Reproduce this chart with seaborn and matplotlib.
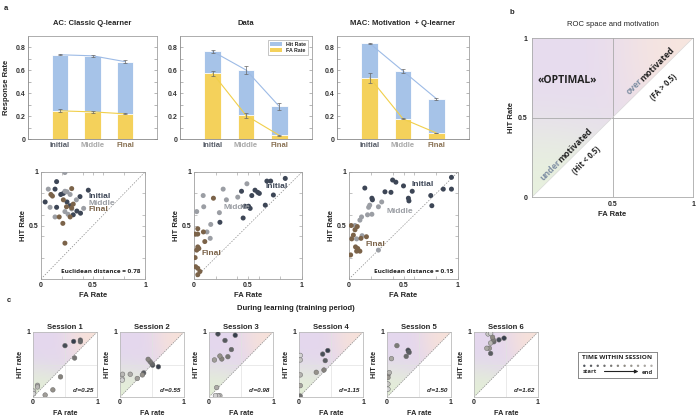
import numpy as np
import pandas as pd
import matplotlib
matplotlib.use("Agg")
import matplotlib.pyplot as plt
import seaborn as sns
from matplotlib.colors import to_rgb, LinearSegmentedColormap
from matplotlib.patches import Patch

# ---------------- data ----------------
phases = ["Initial", "Middle", "Final"]

ac_hit = [0.736, 0.727, 0.676]
ac_hit_err = [0.003, 0.010, 0.012]
ac_fa = [0.246, 0.237, 0.220]
ac_fa_err = [0.013, 0.007, 0.004]

data_hit = [0.765, 0.603, 0.285]
data_hit_err = [0.016, 0.036, 0.033]
data_fa = [0.573, 0.206, 0.032]
data_fa_err = [0.024, 0.025, 0.004]

mac_hit = [0.835, 0.594, 0.353]
mac_hit_err = [0.003, 0.018, 0.008]
mac_fa = [0.535, 0.176, 0.053]
mac_fa_err = [0.044, 0.005, 0.003]

s1_init_fa = [0.15, 0.135, 0.04, 0.15, 0.19, 0.375, 0.455, 0.25, 0.28, 0.31, 0.38, 0.345, 0.215]
s1_init_hit = [0.91, 0.84, 0.72, 0.67, 0.79, 0.77, 0.83, 0.72, 0.685, 0.60, 0.615, 0.635, 0.80]
s1_mid_fa = [0.07, 0.23, 0.23, 0.25, 0.28, 0.34, 0.41, 0.135, 0.23, 0.295, 0.26, 0.087]
s1_mid_hit = [0.84, 0.995, 0.82, 0.815, 0.79, 0.74, 0.66, 0.58, 0.63, 0.655, 0.605, 0.67]
s1_fin_fa = [0.095, 0.11, 0.295, 0.215, 0.31, 0.295, 0.175, 0.28, 0.21, 0.23, 0.245]
s1_fin_hit = [0.79, 0.775, 0.845, 0.74, 0.70, 0.665, 0.58, 0.58, 0.52, 0.335, 0.675]

s2_init_fa = [0.845, 0.675, 0.71, 0.44, 0.565, 0.59, 0.605, 0.535, 0.735, 0.47, 0.505, 0.52, 0.66, 0.455, 0.24]
s2_init_hit = [0.94, 0.915, 0.915, 0.82, 0.83, 0.81, 0.80, 0.78, 0.785, 0.68, 0.68, 0.66, 0.69, 0.57, 0.53]
s2_mid_fa = [0.49, 0.27, 0.085, 0.30, 0.405, 0.09, 0.025, 0.235, 0.155, 0.15, 0.12]
s2_mid_hit = [0.89, 0.84, 0.78, 0.74, 0.765, 0.675, 0.63, 0.62, 0.51, 0.38, 0.44]
s2_fin_fa = [0.18, 0.035, 0.01, 0.035, 0.087, 0.10, 0.035, 0.045, 0.025, 0.01, 0.015, 0.035, 0.055, 0.035]
s2_fin_hit = [0.755, 0.47, 0.42, 0.42, 0.44, 0.35, 0.30, 0.285, 0.27, 0.20, 0.115, 0.10, 0.07, 0.04]

s3_init_fa = [0.94, 0.865, 0.94, 0.75, 0.76, 0.545, 0.55, 0.58, 0.50, 0.40, 0.43, 0.385, 0.33, 0.145, 0.21, 0.215]
s3_init_hit = [0.95, 0.84, 0.84, 0.78, 0.685, 0.755, 0.73, 0.82, 0.87, 0.925, 0.905, 0.81, 0.815, 0.85, 0.755, 0.74]
s3_mid_fa = [0.19, 0.18, 0.30, 0.27, 0.17, 0.115, 0.10, 0.055, 0.12, 0.07, 0.27, 0.21]
s3_mid_hit = [0.69, 0.67, 0.72, 0.675, 0.60, 0.58, 0.55, 0.50, 0.405, 0.375, 0.27, 0.605]
s3_fin_fa = [0.076, 0.055, 0.02, 0.04, 0.11, 0.16, 0.06, 0.08, 0.07, 0.10, 0.015, 0.025]
s3_fin_hit = [0.49, 0.46, 0.50, 0.41, 0.38, 0.395, 0.30, 0.285, 0.26, 0.26, 0.225, 0.375]

# sessions, points listed in time order (start -> end)
sess_fa = [
    [0.635, 0.50, 0.74, 0.74, 0.65, 0.43, 0.31, 0.19, 0.07, 0.07, 0.01, 0.01],
    [0.60, 0.51, 0.37, 0.50, 0.47, 0.44, 0.35, 0.27, 0.16, 0.04, 0.03, 0.035],
    [0.41, 0.14, 0.25, 0.35, 0.295, 0.20, 0.17, 0.085, 0.12, 0.17, 0.14, 0.10],
    [0.45, 0.37, 0.41, 0.02, 0.39, 0.27, 0.02, 0.02, 0.02, 0.02],
    [0.34, 0.33, 0.345, 0.30, 0.155, 0.015, 0.015, 0.07, 0.035, 0.015, 0.015],
    [0.47, 0.39, 0.26, 0.31, 0.30, 0.29, 0.24, 0.20, 0.26, 0.22, 0.26],
]
sess_hit = [
    [0.855, 0.79, 0.875, 0.85, 0.60, 0.31, 0.11, 0.03, 0.18, 0.155, 0.09, 0.05],
    [0.465, 0.49, 0.37, 0.51, 0.545, 0.58, 0.34, 0.285, 0.35, 0.35, 0.285, 0.26],
    [0.95, 0.97, 0.87, 0.73, 0.62, 0.585, 0.63, 0.57, 0.145, 0.02, 0.02, 0.02],
    [0.715, 0.66, 0.56, 0.015, 0.415, 0.38, 0.175, 0.34, 0.57, 0.64],
    [0.70, 0.72, 0.685, 0.625, 0.79, 0.34, 0.30, 0.59, 0.375, 0.20, 0.12],
    [0.905, 0.88, 0.67, 0.85, 0.88, 0.92, 0.75, 0.75, 0.83, 0.97, 0.98],
]
sess_titles = ["Session 1", "Session 2", "Session 3", "Session 4", "Session 5", "Session 6"]
sess_dprime = ["d'=0.25", "d'=0.55", "d'=0.98", "d'=1.15", "d'=1.50", "d'=1.62"]
euclid = ["Euclidean distance = 0.78", None, "Euclidean distance = 0.15"]

# ---------------- style ----------------
sns.set_theme(style="white")
plt.rcParams["font.family"] = ["Liberation Sans", "DejaVu Sans"]
plt.rcParams["font.weight"] = "bold"
plt.rcParams["axes.labelweight"] = "bold"
plt.rcParams["axes.titleweight"] = "bold"

BLUE = "#a6c3e8"
YELLOW = "#f4d15b"
BLUE_LINE = "#9dbbe6"
YELLOW_LINE = "#f1cf4a"
C_INIT = "#3d4656"
C_MID = "#9b9ea4"
C_FIN = "#7b6349"
TICKC = ["#555b66", "#a8a8a8", "#8a7254"]
SPINE = "#a0a0a0"
time_cmap = LinearSegmentedColormap.from_list("t", ["#363e4c", "#8e8a82", "#d2d2d2"])

W, H = 700, 418
fig = plt.figure(figsize=(7, 4.18), dpi=100)


def add_ax(l, t, r, b):
    return fig.add_axes([l / W, 1 - b / H, (r - l) / W, (b - t) / H])


def style_spines(ax, c=SPINE, lw=0.6):
    for s in ax.spines.values():
        s.set_color(c)
        s.set_linewidth(lw)


def grad_img(cg, cp, co, n=400):
    g = np.linspace(0, 1, n)
    X, Y = np.meshgrid(g, g)
    cg = np.array(to_rgb(cg))
    cp = np.array(to_rgb(cp))
    co = np.array(to_rgb(co))
    wg = np.exp(-(X ** 2 + Y ** 2) / 0.16)
    wp = np.exp(-(X ** 2 + (1 - Y) ** 2) / 0.35)
    wo = np.exp(-((1 - X) ** 2 + (1 - Y) ** 2) / 0.14)
    s = wg + wp + wo
    rgb = (wg[..., None] * cg + wp[..., None] * cp + wo[..., None] * co) / s[..., None]
    alpha = (Y >= X).astype(float)
    return np.dstack([rgb, alpha])


GRAD_B = grad_img("#e8f2dd", "#e7dcef", "#f8e6de")
GRAD_C = grad_img("#e3f0d6", "#e4d7ee", "#f8e2d8")


# ---------------- panel a: bars ----------------
def bar_panel(ax, hit, hit_err, fa, fa_err, title, ylabel=None, legend=False):
    df = pd.DataFrame({"phase": phases, "hit": hit, "fa": fa})
    sns.barplot(data=df, x="phase", y="hit", color=BLUE, width=0.5, errorbar=None,
                ax=ax, edgecolor="white", linewidth=0.6, saturation=1)
    sns.barplot(data=df, x="phase", y="fa", color=YELLOW, width=0.5, errorbar=None,
                ax=ax, edgecolor="white", linewidth=0.6, saturation=1)
    xs = np.arange(len(phases))
    ax.plot(xs, hit, color=BLUE_LINE, lw=0.8, zorder=3)
    ax.plot(xs, fa, color=YELLOW_LINE, lw=0.8, zorder=3)
    ax.errorbar(xs, hit, yerr=hit_err, fmt="none", ecolor="#666666", elinewidth=0.5,
                capsize=1.6, capthick=0.5, zorder=4)
    ax.errorbar(xs, fa, yerr=fa_err, fmt="none", ecolor="#666666", elinewidth=0.5,
                capsize=1.6, capthick=0.5, zorder=4)
    ax.set_xlim(-0.985, 2.985)
    ax.set_ylim(0, 0.9)
    ax.set_yticks([0, 0.2, 0.4, 0.6, 0.8])
    ax.set_yticklabels(["0", "0.2", "0.4", "0.6", "0.8"])
    ax.set_yticks(np.arange(0.1, 0.9, 0.1), minor=True)
    ax.tick_params(axis="y", which="both", direction="in", left=True, right=True,
                   length=2, width=0.5, color="#999999", labelsize=5, pad=2)
    ax.tick_params(axis="x", length=0, labelsize=5.5, pad=2)
    for lab, c in zip(ax.get_xticklabels(), TICKC):
        lab.set_color(c)
    for lab in ax.get_yticklabels():
        lab.set_color("#333333")
    ax.set_xlabel("")
    ax.set_ylabel(ylabel if ylabel else "", fontsize=5.5, labelpad=4)
    ax.set_title(title, fontsize=5.5, pad=8)
    style_spines(ax)
    ax.spines["left"].set_color("#888888")
    ax.spines["bottom"].set_color("#888888")
    if legend:
        h = [Patch(facecolor=BLUE, edgecolor="none", label="Hit Rate"),
             Patch(facecolor=YELLOW, edgecolor="none", label="FA Rate")]
        lg = ax.legend(handles=h, loc="upper right", fontsize=3.8, frameon=True,
                       fancybox=False, edgecolor="#999999", handlelength=2.4,
                       handleheight=0.7, borderpad=0.3, labelspacing=0.25,
                       bbox_to_anchor=(0.99, 0.985))
        lg.get_frame().set_linewidth(0.5)


ax1 = add_ax(28, 36, 157, 139)
bar_panel(ax1, ac_hit, ac_hit_err, ac_fa, ac_fa_err, "AC: Classic Q-learner", ylabel="Response Rate")
ax2 = add_ax(180, 36, 312, 139)
bar_panel(ax2, data_hit, data_hit_err, data_fa, data_fa_err, "Data", legend=True)
ax3 = add_ax(337, 36, 469, 139)
bar_panel(ax3, mac_hit, mac_hit_err, mac_fa, mac_fa_err, "MAC: Motivation  + Q-learner")


# ---------------- panel a: ROC scatters ----------------
def roc_scatter(ax, groups, label_pos, dist):
    for (fa, hit), col in zip(groups, [C_INIT, C_MID, C_FIN]):
        sns.scatterplot(x=fa, y=hit, color=col, s=13, edgecolor="none", ax=ax,
                        legend=False, zorder=3)
    ax.plot([0, 1], [0, 1], color="#888888", lw=0.5, ls=(0, (2, 2)), zorder=2)
    for (px, py), name, col in zip(label_pos, phases, [C_INIT, C_MID, C_FIN]):
        ax.text(px, py, name, color=col, fontsize=6, ha="left", va="center", zorder=5)
    if dist:
        ax.text(0.96, 0.05, dist, fontsize=4.6, ha="right", va="bottom",
                color="#222222", family=["Open Sans", "DejaVu Sans"])
    ax.set_xlim(0, 1)
    ax.set_ylim(0, 1)
    ax.set_xticks([0, 0.5, 1])
    ax.set_xticklabels(["0", "0.5", "1"])
    ax.set_yticks([0.5, 1])
    ax.set_yticklabels(["0.5", "1"])
    ax.set_xticks(np.arange(0.2, 1.0, 0.2), minor=True)
    ax.set_yticks(np.arange(0.2, 1.0, 0.2), minor=True)
    ax.tick_params(which="both", direction="in", top=True, right=True, left=True, bottom=True,
                   length=2, width=0.5, color="#aaaaaa", labelsize=5, pad=2)
    ax.set_xlabel("FA Rate", fontsize=5.5, labelpad=2)
    ax.set_ylabel("HIT Rate", fontsize=5.5, labelpad=1)
    style_spines(ax)


sa = add_ax(41, 172, 145, 279)
roc_scatter(sa, [(s1_init_fa, s1_init_hit), (s1_mid_fa, s1_mid_hit), (s1_fin_fa, s1_fin_hit)],
            [(0.46, 0.77), (0.46, 0.705), (0.46, 0.645)], euclid[0])
sb = add_ax(194, 172, 302, 279)
roc_scatter(sb, [(s2_init_fa, s2_init_hit), (s2_mid_fa, s2_mid_hit), (s2_fin_fa, s2_fin_hit)],
            [(0.66, 0.865), (0.27, 0.665), (0.07, 0.24)], euclid[1])
sc = add_ax(349, 172, 458, 279)
roc_scatter(sc, [(s3_init_fa, s3_init_hit), (s3_mid_fa, s3_mid_hit), (s3_fin_fa, s3_fin_hit)],
            [(0.57, 0.885), (0.34, 0.635), (0.15, 0.32)], euclid[2])

# ---------------- panel b ----------------
axb = add_ax(532, 38, 693, 197)
axb.imshow(GRAD_B, extent=(0, 1, 0, 1), origin="lower", aspect="auto", interpolation="bilinear", zorder=0)
axb.plot([0, 1], [0.5, 0.5], color="#aaaaaa", lw=0.6, zorder=1)
axb.plot([0.5, 0.5], [0, 1], color="#aaaaaa", lw=0.6, zorder=1)
axb.plot([0, 1], [0, 1], color="#d6d6d6", lw=0.4, zorder=1)
axb.set_xlim(0, 1)
axb.set_ylim(0, 1)
axb.set_xticks([0.5, 1])
axb.set_xticklabels(["0.5", "1"])
axb.set_yticks([0, 0.5, 1])
axb.set_yticklabels(["0", "0.5", "1"])
axb.tick_params(length=0, labelsize=5, pad=3)
axb.set_xlabel("FA Rate", fontsize=5.5, labelpad=2)
axb.set_ylabel("HIT Rate", fontsize=5.5, labelpad=2)
axb.set_title("ROC space and motivation", fontsize=5.5, pad=9, fontweight="normal")
style_spines(axb, "#aaaaaa", 0.6)
axb.text(0.22, 0.735, "«OPTIMAL»", fontsize=7.5, ha="center", va="center", color="#222222",
         family=["Open Sans", "DejaVu Sans"])
kw = dict(fontsize=6.2, rotation=45, rotation_mode="anchor", va="bottom",
          family=["Open Sans", "DejaVu Sans"])
axb.text(0.70, 0.715, "over", ha="right", color="#8090a4", **kw)
axb.text(0.70, 0.715, "motivated", ha="left", color="#222222", **kw)
axb.text(0.815, 0.69, "(FA > 0.5)", ha="center", va="center", rotation=45, rotation_mode="anchor",
         fontsize=5.5, color="#222222", family=["Open Sans", "DejaVu Sans"])
axb.text(0.19, 0.205, "under", ha="right", color="#8090a4", **kw)
axb.text(0.19, 0.205, "motivated", ha="left", color="#222222", **kw)
axb.text(0.335, 0.23, "(Hit < 0.5)", ha="center", va="center", rotation=45, rotation_mode="anchor",
         fontsize=5.5, color="#222222", family=["Open Sans", "DejaVu Sans"])

# ---------------- panel c ----------------
sess_left = [33, 120, 209, 299, 387, 474]
sess_w = 64
for i in range(6):
    l = sess_left[i]
    ax = add_ax(l, 332, l + sess_w, 397)
    ax.imshow(GRAD_C, extent=(0, 1, 0, 1), origin="lower", aspect="auto", interpolation="bilinear", zorder=0)
    ax.plot([0, 1], [0.5, 0.5], color="#e2e2e2", lw=0.5, zorder=1)
    ax.plot([0.5, 0.5], [0, 1], color="#e2e2e2", lw=0.5, zorder=1)
    ax.plot([0, 1], [0, 1], color="#888888", lw=0.5, ls=(0, (2, 1.5)), zorder=2)
    fa = sess_fa[i]
    hit = sess_hit[i]
    n = len(fa)
    cols = [time_cmap(k / (n - 1)) for k in range(n)]
    dfp = pd.DataFrame({"fa": fa, "hit": hit, "t": np.arange(n)})
    sns.scatterplot(data=dfp, x="fa", y="hit", hue="t", palette=cols, s=11,
                    edgecolor="#6a6a6a", linewidth=0.35, ax=ax, legend=False, zorder=3)
    ax.set_xlim(0, 1)
    ax.set_ylim(0, 1)
    ax.set_xticks([0, 1])
    ax.set_xticklabels(["0", "1"])
    ax.set_yticks([1])
    ax.set_yticklabels(["1"])
    ax.tick_params(length=0, labelsize=5, pad=1.5)
    ax.set_xlabel("FA rate", fontsize=5.2, labelpad=2.5)
    ax.set_ylabel("HIT rate", fontsize=5.2, labelpad=2)
    ax.set_title(sess_titles[i], fontsize=5.5, pad=2)
    ax.text(0.95, 0.06, sess_dprime[i], fontsize=4.6, style="italic", ha="right", va="bottom",
            color="#222222")
    style_spines(ax, "#bbbbbb", 0.6)

# legend box: time within session
lax = add_ax(578, 352, 657, 378)
lax.set_xlim(0, 1)
lax.set_ylim(0, 1)
lax.set_xticks([])
lax.set_yticks([])
style_spines(lax, "#888888", 0.7)
lax.text(0.5, 0.78, "TIME WITHIN SESSION", ha="center", va="center", fontsize=4.6,
         family=["Open Sans", "DejaVu Sans"], color="#222222")
nd = 11
dot_x = np.linspace(0.08, 0.93, nd)
sns.scatterplot(x=dot_x, y=np.full(nd, 0.47), hue=np.arange(nd),
                palette=[time_cmap(0.15 + 0.6 * k / (nd - 1)) for k in range(nd)],
                s=3, edgecolor="none", ax=lax, legend=False)
lax.text(0.06, 0.25, "start", ha="left", va="center", fontsize=4.2, color="#333333",
         family=["Open Sans", "DejaVu Sans"])
lax.text(0.95, 0.22, "end", ha="right", va="center", fontsize=4.2, color="#333333",
         family=["Open Sans", "DejaVu Sans"])
lax.annotate("", xy=(0.8, 0.25), xytext=(0.3, 0.25),
             arrowprops=dict(arrowstyle="-|>", color="#222222", lw=0.8, mutation_scale=5))

# ---------------- figure texts ----------------
fig.text(4 / W, 1 - 9 / H, "a", fontsize=5.5, ha="left", va="center")
fig.text(510 / W, 1 - 13 / H, "b", fontsize=5.5, ha="left", va="center")
fig.text(7 / W, 1 - 301 / H, "c", fontsize=5.5, ha="left", va="center")
fig.text(296 / W, 1 - 308 / H, "During learning (training period)", fontsize=5.5,
         ha="center", va="center", color="#222222")

fig.savefig("out.png", dpi=100)
